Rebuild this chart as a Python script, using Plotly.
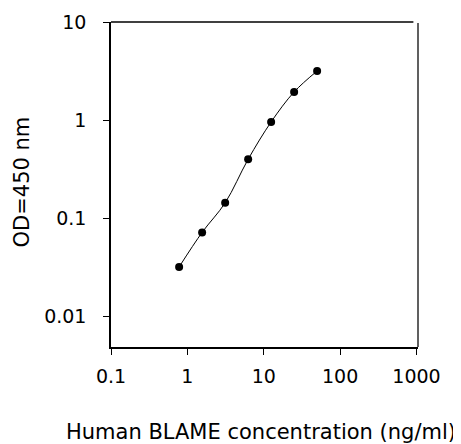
import plotly.graph_objects as go

concentration = [0.78, 1.56, 3.125, 6.25, 12.5, 25, 50]
od450 = [0.032, 0.072, 0.144, 0.40, 0.96, 1.94, 3.17]
x_ticks = [0.1, 1, 10, 100, 1000]
x_tick_labels = ["0.1", "1", "10", "100", "1000"]
y_ticks = [0.01, 0.1, 1, 10]
y_tick_labels = ["0.01", "0.1", "1", "10"]

font = "DejaVu Sans, sans-serif"

fig = go.Figure()
fig.add_trace(go.Scatter(
    x=concentration, y=od450, mode="lines+markers",
    line=dict(color="black", width=1, shape="spline"),
    marker=dict(color="black", size=8),
    showlegend=False,
))

# page body adds an 8px offset, so the figure is sized 8px smaller
fig.update_layout(
    width=453, height=436,
    margin=dict(l=103, r=43, t=14, b=97),
    paper_bgcolor="white", plot_bgcolor="white",
    font=dict(family=font, color="black", size=19),
    xaxis=dict(
        type="log", range=[-1, 3.02], automargin=False,
        tickvals=x_ticks, ticktext=x_tick_labels,
        showgrid=False, zeroline=False,
        showline=True, linecolor="black", linewidth=1.5,
        ticks="outside", ticklen=6, tickwidth=1, tickcolor="black",
        tickfont=dict(size=19), ticklabelstandoff=5,
    ),
    yaxis=dict(
        type="log", range=[-2.31, 1], automargin=False,
        tickvals=y_ticks, ticktext=y_tick_labels,
        showgrid=False, zeroline=False,
        showline=True, linecolor="black", linewidth=1.5,
        ticks="outside", ticklen=6, tickwidth=1, tickcolor="black",
        tickfont=dict(size=19), ticklabelstandoff=13,
    ),
    shapes=[
        dict(type="line", xref="paper", yref="paper", x0=0, x1=0.985, y0=1, y1=1,
             line=dict(color="black", width=1.5)),
        dict(type="line", xref="paper", yref="paper", x0=1, x1=1, y0=0, y1=0.997,
             line=dict(color="#606060", width=2)),
    ],
    annotations=[
        dict(text="Human BLAME concentration (ng/ml)", xref="paper", yref="paper",
             x=0.49, y=0, xanchor="center", yanchor="middle", yshift=-85,
             showarrow=False, font=dict(size=21)),
        dict(text="OD=450 nm", xref="paper", yref="paper", textangle=-90,
             x=0, y=0.5, xanchor="center", yanchor="middle", xshift=-89.5, yshift=2.5,
             showarrow=False, font=dict(size=21)),
    ],
)

fig.write_html("out.html")
